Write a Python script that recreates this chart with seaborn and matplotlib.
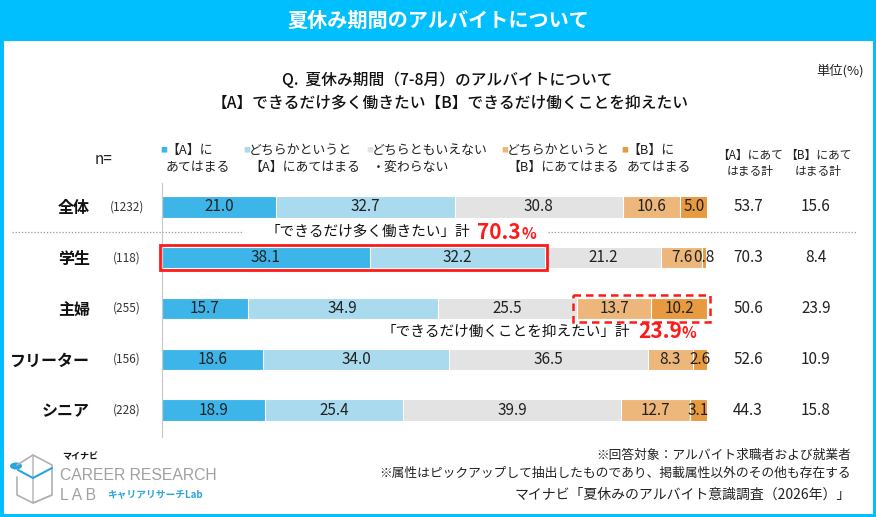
import matplotlib
matplotlib.use("Agg")
import matplotlib.pyplot as plt
import matplotlib.transforms as mtrans
from matplotlib.patches import Rectangle, Circle
import seaborn as sns
import pandas as pd
import numpy as np

categories = ['全体', '学生', '主婦', 'フリーター', 'シニア']
n_vals = [1232, 118, 255, 156, 228]
a_yes = [21.0, 38.1, 15.7, 18.6, 18.9]
a_lean = [32.7, 32.2, 34.9, 34.0, 25.4]
neutral = [30.8, 21.2, 25.5, 36.5, 39.9]
b_lean = [10.6, 7.6, 13.7, 8.3, 12.7]
b_yes = [5.0, 0.8, 10.2, 2.6, 3.1]
a_total = [53.7, 70.3, 50.6, 52.6, 44.3]
b_total = [15.6, 8.4, 23.9, 10.9, 15.8]

seg_names = ['【A】に\nあてはまる', 'どちらかというと\n【A】にあてはまる', 'どちらともいえない\n・変わらない',
             'どちらかというと\n【B】にあてはまる', '【B】に\nあてはまる']
seg_vals = [a_yes, a_lean, neutral, b_lean, b_yes]
seg_colors = ['#3DB5E8', '#A9DAEE', '#E3E3E3', '#EDB77C', '#E89A40']

sns.set_style('white')
plt.rcParams['font.family'] = ['Noto Sans CJK JP', 'DejaVu Sans']

W, H = 876, 517
fig = plt.figure(figsize=(W / 100, H / 100), dpi=100)

def fx(x):
    return x / W

def fy(y):
    return 1 - y / H

# frame and banner
fig.patches.append(Rectangle((0, 0), 1, 1, transform=fig.transFigure, fill=False,
                             edgecolor='#00BFFF', linewidth=5, zorder=0))
fig.patches.append(Rectangle((0, fy(41)), 1, 41 / H, transform=fig.transFigure,
                             facecolor='#00BFFF', edgecolor='none', zorder=0))
fig.text(0.5, fy(20), '夏休み期間のアルバイトについて', color='white', fontsize=14.5,
         fontweight='bold', ha='center', va='center')

ax = fig.add_axes([fx(162), fy(437), 545 / W, 254 / H])

df = pd.DataFrame({'category': categories})
cum = np.zeros(len(categories))
cums = []
for vals in seg_vals:
    cum = cum + np.array(vals)
    cums.append(cum.copy())
for k in range(len(seg_vals) - 1, -1, -1):
    df['cum'] = cums[k]
    sns.barplot(data=df, x='cum', y='category', order=categories, orient='h', color=seg_colors[k],
                width=0.42, edgecolor='white', linewidth=0.8, ax=ax, saturation=1)

ax.set_xlim(0, 100)
ax.set_ylim(4.53, -0.47)
ax.set_xlabel('')
ax.set_ylabel('')
ax.set_xticks([])
for s in ['top', 'right', 'bottom']:
    ax.spines[s].set_visible(False)
ax.spines['left'].set_color('#C8C8C8')
ax.spines['left'].set_linewidth(0.8)
ax.tick_params(axis='y', length=0, pad=52)
ax.set_yticklabels(categories, fontsize=11.5, fontweight='bold', color='#111111')

# value labels
for k, vals in enumerate(seg_vals):
    for i, v in enumerate(vals):
        c = cums[k][i] - v / 2
        ax.text(c, i, f'{v:.1f}', ha='center', va='center', fontsize=11, color='#222222')

bt = mtrans.blended_transform_factory(fig.transFigure, ax.transData)
for i in range(len(categories)):
    ax.text(fx(127), i, f'({n_vals[i]})', transform=bt, ha='center', va='center',
            fontsize=8.5, color='#333333')
    ax.text(fx(748), i, f'{a_total[i]:.1f}', transform=bt, ha='center', va='center',
            fontsize=11, color='#222222')
    ax.text(fx(816), i, f'{b_total[i]:.1f}', transform=bt, ha='center', va='center',
            fontsize=11, color='#222222')

# separator dotted line between 全体 and others
ax.plot([fx(12), fx(243)], [0.5, 0.5], transform=bt, color='#999999', linestyle=(0, (1, 1.5)),
        linewidth=0.9, clip_on=False)
ax.plot([fx(548), fx(856)], [0.5, 0.5], transform=bt, color='#999999', linestyle=(0, (1, 1.5)),
        linewidth=0.9, clip_on=False)

# red highlight for 学生
ax.add_patch(Rectangle((-0.4, 1 - 0.24), cums[1][1] + 0.8, 0.48, fill=False, edgecolor='#FF1A1A',
                       linewidth=2, clip_on=False, zorder=5))
ax.text(fx(470), 0.5, '「できるだけ多く働きたい」計', transform=bt, ha='right', va='center',
        fontsize=10.5, color='#111111')
ax.text(fx(477), 0.5, f'{a_total[1]:.1f}', transform=bt, ha='left', va='center',
        fontsize=15, fontweight='bold', color='#FF1A1A')
ax.text(fx(521), 0.5 + 0.03, '%', transform=bt, ha='left', va='center',
        fontsize=11, fontweight='bold', color='#FF1A1A')

# red dashed highlight for 主婦
start = cums[2][2]
ax.add_patch(Rectangle((start - 0.6, 2 - 0.27), 100 - start + 1.2, 0.54, fill=False,
                       edgecolor='#FF1A1A', linewidth=1.8, linestyle=(0, (3, 2)),
                       clip_on=False, zorder=5))
ax.text(fx(630), 2.46, '「できるだけ働くことを抑えたい」計', transform=bt, ha='right', va='center',
        fontsize=10.5, color='#111111')
ax.text(fx(638), 2.46, f'{b_total[2]:.1f}', transform=bt, ha='left', va='center',
        fontsize=15, fontweight='bold', color='#FF1A1A')
ax.text(fx(682), 2.46 + 0.03, '%', transform=bt, ha='left', va='center',
        fontsize=11, fontweight='bold', color='#FF1A1A')

# question title
fig.text(fx(447), fy(81), 'Q.  夏休み期間（7-8月）のアルバイトについて', ha='center', va='center',
         fontsize=11.3, color='#111111', fontweight='medium')
fig.text(fx(450), fy(103), '【A】できるだけ多く働きたい【B】できるだけ働くことを抑えたい', ha='center',
         va='center', fontsize=11.3, color='#111111', fontweight='medium')
fig.text(fx(864), fy(71), '単位(%)', ha='right', va='center', fontsize=9.5, color='#222222')

# legend
fig.text(fx(104), fy(160), 'n=', ha='center', va='center', fontsize=11, color='#222222')
leg_x = [160, 243, 366, 501, 621]
for k in range(5):
    fig.text(fx(leg_x[k]), fy(150), '■', ha='left', va='center', fontsize=5, color=seg_colors[k])
    fig.text(fx(leg_x[k] + 6), fy(159), seg_names[k], ha='left', va='center', fontsize=9.3,
             color='#222222', linespacing=1.4)
fig.text(fx(750), fy(163), '【A】にあて\nはまる計', ha='center', va='center', fontsize=8.5,
         color='#222222', linespacing=1.3)
fig.text(fx(818), fy(163), '【B】にあて\nはまる計', ha='center', va='center', fontsize=8.5,
         color='#222222', linespacing=1.3)

# footnotes
fig.text(fx(851), fy(455), '※回答対象：アルバイト求職者および就業者', ha='right', va='center',
         fontsize=9.2, color='#222222')
fig.text(fx(851), fy(473), '※属性はピックアップして抽出したものであり、掲載属性以外のその他も存在する',
         ha='right', va='center', fontsize=9.2, color='#222222')
fig.text(fx(851), fy(495), 'マイナビ「夏休みのアルバイト意識調査（2026年）」', ha='right', va='center',
         fontsize=10, color='#222222')

# logo
fig.text(fx(62), fy(457), 'マイナビ', ha='left', va='center', fontsize=6.5, fontweight='bold',
         color='#111111')
fig.text(fx(60), fy(476), 'CAREER RESEARCH', ha='left', va='center', fontsize=11.3,
         color='#A0A0A0', family=['Liberation Sans', 'DejaVu Sans'])
fig.text(fx(60), fy(496), 'L A B', ha='left', va='center', fontsize=11.3, color='#A0A0A0',
         family=['Liberation Sans', 'DejaVu Sans'])
fig.text(fx(107), fy(495), 'キャリアリサーチLab', ha='left', va='center', fontsize=7,
         fontweight='bold', color='#2AA6DE')
lx = [[17, 17, 33, 52, 52, 33, 17], [477, 495, 503, 495, 465, 455, 465]]
fig.add_artist(plt.Line2D([fx(v) for v in lx[0]], [fy(v) for v in lx[1]], color='#B0B0B0',
                          linewidth=1.2, transform=fig.transFigure))
fig.add_artist(plt.Line2D([fx(33), fx(33), fx(52)], [fy(455), fy(503), fy(495)], color='#B0B0B0',
                          linewidth=1.0, transform=fig.transFigure))
fig.add_artist(plt.Line2D([fx(18), fx(33), fx(52)], [fy(470), fy(478), fy(468)], color='#2AA6DE',
                          linewidth=1.5, transform=fig.transFigure))
fig.patches.append(Circle((fx(16), fy(466)), 6 / W, transform=fig.transFigure,
                          facecolor='#2AA6DE', edgecolor='none'))

fig.savefig('out.png', dpi=100)
